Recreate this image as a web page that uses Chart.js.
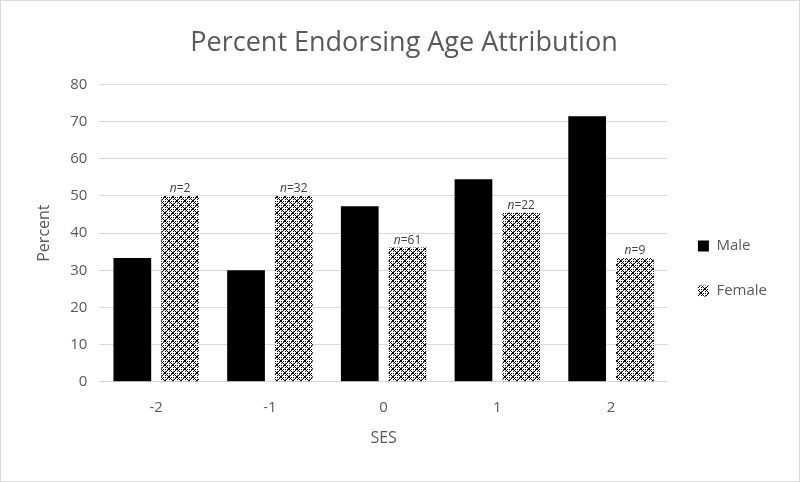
<!DOCTYPE html>
<html>
<head>
<meta charset="utf-8">
<script src="https://cdn.jsdelivr.net/npm/chart.js@4/dist/chart.umd.min.js"></script>
<style>
  html, body { margin: 0; padding: 0; background: #fff; }
  #wrap { position: absolute; left: 0; top: 0; width: 798px; height: 480px; border: 1px solid #d9d9d9; }
</style>
</head>
<body>
<div id="wrap"><canvas id="myChart" width="798" height="480"></canvas></div>
<script>
// donnees du graphique
const categories = ['-2', '-1', '0', '1', '2']
const maleValues = [33.3, 30.0, 47.2, 54.5, 71.4]
const femaleValues = [50.0, 50.0, 36.1, 45.5, 33.3]
const femaleN = ['2', '32', '61', '22', '9']

const textGrey = '#595959'
const fontFam = "'Open Sans', 'Liberation Sans', sans-serif"

// motif croisillon pour Female
function makePattern() {
    const c = document.createElement('canvas')
    c.width = 8
    c.height = 8
    const g = c.getContext('2d')
    g.fillStyle = '#fff'
    g.fillRect(0, 0, 8, 8)
    g.fillStyle = '#000'
    const px = [[0,0],[1,1],[2,2],[3,3],[4,4],[5,5],[6,6],[7,7],
                [7,0],[6,1],[5,2],[4,3],[3,4],[2,5],[1,6],[0,7],
                [4,0],[0,4],[2,0],[0,2],[6,4],[4,6]]
    px.forEach(p => g.fillRect(p[0], p[1], 1, 1))
    g.fillStyle = '#555'
    g.fillRect(2, 4, 1, 1)
    g.fillRect(6, 0, 1, 1)
    g.fillRect(4, 2, 1, 1)
    g.fillRect(0, 6, 1, 1)
    return g.createPattern(c, 'repeat')
}

// etiquettes n= au-dessus des barres Female
const nLabels = {
    id: 'nLabels',
    afterDatasetsDraw(chart) {
        const ctx = chart.ctx
        const meta = chart.getDatasetMeta(1)
        ctx.save()
        ctx.fillStyle = '#404040'
        ctx.textBaseline = 'bottom'
        meta.data.forEach((bar, i) => {
            const a = 'n'
            const b = '=' + femaleN[i]
            ctx.font = 'italic 12px ' + fontFam
            const wa = ctx.measureText(a).width
            ctx.font = '12px ' + fontFam
            const wb = ctx.measureText(b).width
            let x = bar.x - (wa + wb) / 2
            const y = bar.y - 1
            ctx.font = 'italic 12px ' + fontFam
            ctx.textAlign = 'left'
            ctx.fillText(a, x, y)
            ctx.font = '12px ' + fontFam
            ctx.fillText(b, x + wa, y)
        })
        ctx.restore()
    }
}

let ctx = document.getElementById('myChart')
let myChart = new Chart(ctx, {
    type: 'bar',
    data: {
        labels: categories,
        datasets: [
            { label: 'Male', data: maleValues, backgroundColor: '#000000', borderWidth: 0 },
            { label: 'Female', data: femaleValues, backgroundColor: makePattern(), borderWidth: 0 }
        ]
    },
    options: {
        responsive: false,
        animation: false,
        devicePixelRatio: 1,
        categoryPercentage: 0.84,
        barPercentage: 0.79,
        layout: { padding: { left: 30, right: 22, top: 6, bottom: 29 } },
        plugins: {
            title: {
                display: true,
                text: 'Percent Endorsing Age Attribution',
                color: textGrey,
                font: { family: fontFam, size: 27, weight: 'normal' },
                padding: { top: 20, bottom: 25 }
            },
            legend: {
                position: 'right',
                title: { display: true, text: ' ', font: { size: 15 }, padding: { top: 0, bottom: 60 } },
                labels: {
                    color: textGrey,
                    font: { family: fontFam, size: 15 },
                    boxWidth: 11,
                    boxHeight: 11,
                    padding: 30
                }
            },
            tooltip: { enabled: false }
        },
        scales: {
            x: {
                grid: { display: false },
                border: { color: '#d9d9d9' },
                ticks: { color: textGrey, font: { family: fontFam, size: 15 }, padding: 9 },
                title: { display: true, text: 'SES', color: textGrey, font: { family: fontFam, size: 16 }, padding: { top: 3 } }
            },
            y: {
                min: 0,
                max: 80,
                ticks: { stepSize: 10, color: textGrey, font: { family: fontFam, size: 15 }, padding: 12 },
                grid: { color: '#d9d9d9', drawTicks: false },
                border: { display: false },
                title: { display: true, text: 'Percent', color: textGrey, font: { family: fontFam, size: 16 } }
            }
        }
    },
    plugins: [nLabels]
})
</script>
</body>
</html>
